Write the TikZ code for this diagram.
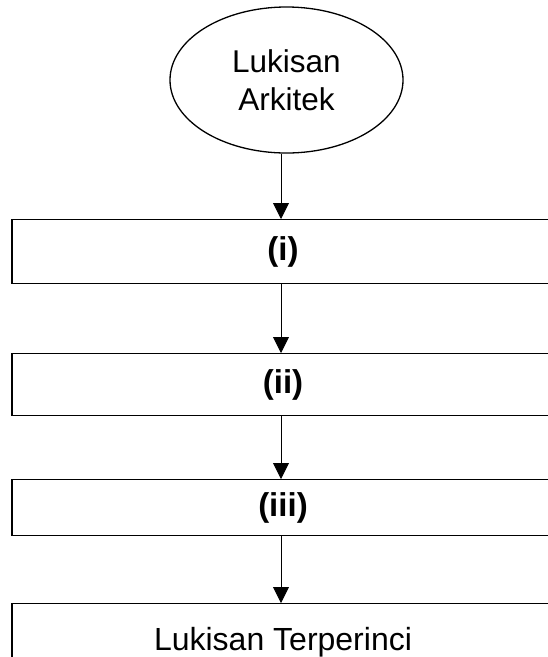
\documentclass[tikz,border=0pt]{standalone}
\usepackage{fontspec}
\setmainfont{Liberation Sans}
\usetikzlibrary{shapes.geometric,arrows.meta}
\begin{document}
\begin{tikzpicture}[x=1pt,y=-1pt,
  stagebox/.style={draw=black,line width=1.3pt,minimum width=542pt,inner sep=0pt,anchor=north},
  oval/.style={ellipse,draw=black,line width=1.3pt,minimum width=233pt,minimum height=146pt,inner sep=0pt,align=center,font=\fontsize{31.5}{38}\selectfont},
  lbl/.style={font=\fontsize{33}{38}\selectfont\bfseries},
  arr/.style={line width=0.9pt,-{Triangle[width=16pt,length=16pt]}}]
\useasboundingbox (0,0) rectangle (548,657);
\clip (0,0) rectangle (548,657);
\node[oval] (e) at (286.5,80) {Lukisan\\Arkitek};
\node[stagebox,minimum height=64pt,lbl] (b1) at (283,219) {(i)};
\node[stagebox,minimum height=62pt,lbl] (b2) at (283,353) {(ii)};
\node[stagebox,minimum height=56pt,lbl] (b3) at (283,479) {(iii)};
\node[stagebox,minimum height=78pt,font=\fontsize{32}{36}\selectfont] (b4) at (283,603) {Lukisan Terperinci};
\coordinate (ax) at (281,0);
\draw[arr] (e.south -| ax) -- (ax |- b1.north);
\draw[arr] (ax |- b1.south) -- (ax |- b2.north);
\draw[arr] (ax |- b2.south) -- (ax |- b3.north);
\draw[arr] (ax |- b3.south) -- (ax |- b4.north);
\end{tikzpicture}
\end{document}
